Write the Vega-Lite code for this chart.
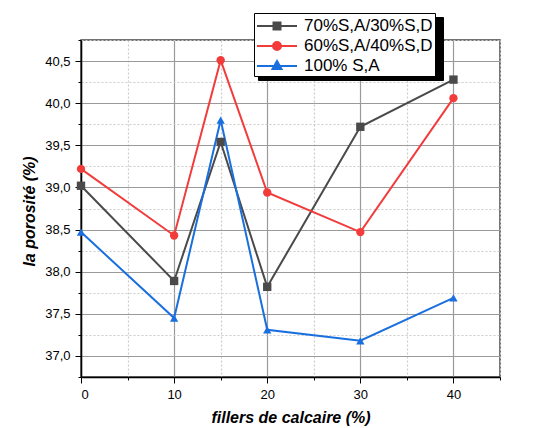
{
  "$schema": "https://vega.github.io/schema/vega-lite/v6.json",
  "width": 419,
  "height": 337,
  "autosize": "none",
  "padding": {"left": 81, "top": 40, "right": 42, "bottom": 51},
  "background": "white",
  "config": {"font": "Liberation Sans", "view": {"stroke": "#444", "strokeWidth": 1.5}},
  "data": {"values": [
    {"filler": 0, "porosite": 39.02, "serie": "70%S,A/30%S,D"},
    {"filler": 10, "porosite": 37.89, "serie": "70%S,A/30%S,D"},
    {"filler": 15, "porosite": 39.54, "serie": "70%S,A/30%S,D"},
    {"filler": 20, "porosite": 37.82, "serie": "70%S,A/30%S,D"},
    {"filler": 30, "porosite": 39.72, "serie": "70%S,A/30%S,D"},
    {"filler": 40, "porosite": 40.28, "serie": "70%S,A/30%S,D"},
    {"filler": 0, "porosite": 39.22, "serie": "60%S,A/40%S,D"},
    {"filler": 10, "porosite": 38.43, "serie": "60%S,A/40%S,D"},
    {"filler": 15, "porosite": 40.51, "serie": "60%S,A/40%S,D"},
    {"filler": 20, "porosite": 38.94, "serie": "60%S,A/40%S,D"},
    {"filler": 30, "porosite": 38.47, "serie": "60%S,A/40%S,D"},
    {"filler": 40, "porosite": 40.06, "serie": "60%S,A/40%S,D"},
    {"filler": 0, "porosite": 38.47, "serie": "100% S,A"},
    {"filler": 10, "porosite": 37.45, "serie": "100% S,A"},
    {"filler": 15, "porosite": 39.8, "serie": "100% S,A"},
    {"filler": 20, "porosite": 37.31, "serie": "100% S,A"},
    {"filler": 30, "porosite": 37.18, "serie": "100% S,A"},
    {"filler": 40, "porosite": 37.69, "serie": "100% S,A"}
  ]},
  "encoding": {
    "x": {
      "field": "filler", "type": "quantitative",
      "scale": {"domain": [0, 45], "nice": false, "zero": false},
      "axis": {
        "values": [0, 5, 10, 15, 20, 25, 30, 35, 40, 45],
        "title": "fillers de calcaire (%)",
        "titleFont": "Liberation Sans", "titleFontSize": 16, "titleFontStyle": "italic", "titleFontWeight": "bold", "titleColor": "#000",
        "titleY": 40, "titleBaseline": "middle",
        "labelExpr": "datum.value % 10 === 0 ? format(datum.value, 'd') : ''",
        "labelFontSize": 13, "labelColor": "#000", "labelPadding": 5, "labelFont": "Liberation Sans",
        "tickSize": {"condition": {"test": "datum.value % 10 === 0", "value": 6}, "value": 3},
        "tickColor": "#000", "domainColor": "#000", "domainWidth": 1.5,
        "grid": true, "gridWidth": 1.2,
        "gridColor": {"condition": {"test": "datum.value % 10 === 0", "value": "#9a9a9a"}, "value": "#cccccc"},
        "gridDash": {"condition": {"test": "datum.value % 10 === 0", "value": []}, "value": [2, 2]}
      }
    },
    "y": {
      "field": "porosite", "type": "quantitative",
      "scale": {"domain": [36.75, 40.75], "nice": false, "zero": false},
      "axis": {
        "values": [36.75, 37, 37.25, 37.5, 37.75, 38, 38.25, 38.5, 38.75, 39, 39.25, 39.5, 39.75, 40, 40.25, 40.5, 40.75],
        "title": "la porosité (%)",
        "titleFont": "Liberation Sans", "titleFontSize": 16, "titleFontStyle": "italic", "titleFontWeight": "bold", "titleColor": "#000",
        "titleX": -52, "titleY": 171, "titleBaseline": "middle", "titleAlign": "center", "titleAngle": -90,
        "labelExpr": "datum.value % 0.5 === 0 ? replace(format(datum.value, '.1f'), '.', ',') : ''",
        "labelFontSize": 13, "labelColor": "#000", "labelPadding": 5, "labelFont": "Liberation Sans",
        "tickSize": {"condition": {"test": "datum.value % 0.5 === 0", "value": 6}, "value": 3},
        "tickColor": "#000", "domainColor": "#000", "domainWidth": 1.5,
        "grid": true, "gridWidth": 1.2,
        "gridColor": {"condition": {"test": "datum.value % 0.5 === 0", "value": "#9a9a9a"}, "value": "#cccccc"},
        "gridDash": {"condition": {"test": "datum.value % 0.5 === 0", "value": []}, "value": [2, 2]}
      }
    },
    "color": {
      "field": "serie", "type": "nominal",
      "scale": {"domain": ["70%S,A/30%S,D", "60%S,A/40%S,D", "100% S,A"], "range": ["#4a4a4a", "#f23c3c", "#1a6fdf"]},
      "legend": {
        "orient": "none", "legendX": 173, "legendY": -27, "zindex": 2,
        "title": null,
        "fillColor": "white", "strokeColor": "black",
        "padding": 2,
        "labelFontSize": 17, "labelFont": "Liberation Sans", "labelColor": "#000",
        "labelLimit": 300, "labelOffset": 16,
        "symbolSize": 400, "symbolStrokeWidth": 2, "symbolOffset": 10,
        "rowPadding": 1,
        "encode": {
          "symbols": {
            "update": {
              "shape": {"signal": "datum.value === '70%S,A/30%S,D' ? 'M-2,0H2M-0.35,-0.35H0.35V0.35H-0.35Z' : datum.value === '60%S,A/40%S,D' ? 'M-2,0H2M0.4,0A0.4,0.4,0,1,1,-0.4,0A0.4,0.4,0,1,1,0.4,0Z' : 'M-2,0H2M0,-0.5L0.45,0.3H-0.45Z'"},
              "stroke": {"signal": "scale('color', datum.value)"},
              "fill": {"signal": "scale('color', datum.value)"}
            }
          }
        }
      }
    }
  },
  "layer": [
    {"mark": {"type": "line", "strokeWidth": 2}},
    {
      "mark": {"type": "point", "filled": true, "opacity": 1},
      "encoding": {
        "shape": {
          "condition": [
            {"test": "datum.serie === '70%S,A/30%S,D'", "value": "square"},
            {"test": "datum.serie === '60%S,A/40%S,D'", "value": "circle"}
          ],
          "value": "triangle-up"
        },
        "size": {"value": 70}
      }
    },
    {
      "mark": {"type": "line", "opacity": 0},
      "encoding": {
        "strokeDash": {
          "field": "serie", "type": "nominal",
          "scale": {"domain": ["100% S,A", "60%S,A/40%S,D", "70%S,A/30%S,D"], "range": [[1, 0], [1, 0], [1, 0]]},
          "legend": {
            "orient": "none", "legendX": 177, "legendY": -23, "zindex": 1,
            "title": null,
            "fillColor": "black", "strokeColor": "black",
            "padding": 2,
            "labelExpr": "''",
            "labelFontSize": 17, "labelFont": "Liberation Sans", "labelColor": "#000",
            "labelLimit": 300, "labelOffset": 149,
            "symbolSize": 400, "symbolStrokeWidth": 2, "symbolOffset": 10,
            "symbolStrokeColor": "black", "symbolFillColor": "black",
            "rowPadding": 1
          }
        }
      }
    }
  ]
}
